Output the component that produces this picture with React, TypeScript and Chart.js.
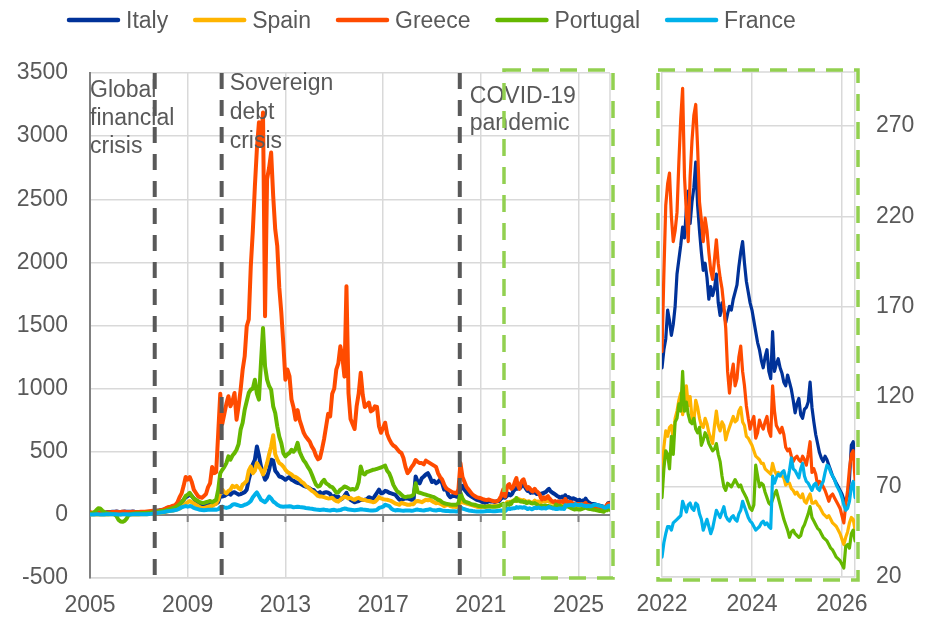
import React, { useEffect, useRef } from 'react';
import { Chart, registerables } from 'chart.js';

Chart.register(...registerables);

// ---------------- data ----------------
const countries = ['Italy', 'Spain', 'Greece', 'Portugal', 'France'];
const seriesColors = ['#003299', '#FFB400', '#FF4B00', '#65B800', '#00B1EA'];

const leftXTicks = [2005, 2009, 2013, 2017, 2021, 2025];
const leftYTicks = [-500, 0, 500, 1000, 1500, 2000, 2500, 3000, 3500];
const rightXTicks = [2022, 2024, 2026];
const rightYTicks = [20, 70, 120, 170, 220, 270];

const eventYears = [2007.65, 2010.39, 2020.14];
const eventLabels = [
  ['Global', 'financial', 'crisis'],
  ['Sovereign', 'debt', 'crisis'],
  ['COVID-19', 'pandemic'],
];
const zoomStartYear = 2021.95;
const endYear = 2026.29;

// monthly observations Jan 2005 .. Dec 2021
const monthlyDates = Array.from({ length: 204 }, (_, i) => 2005 + i / 12);
// half-monthly observations Jan 2022 .. Apr 2026
const halfMonthDates = Array.from({ length: 104 }, (_, i) => 2022 + i / 24);

const italyMonthly = [
  15, 14, 15, 16, 18, 17, 18, 17, 20, 22, 23, 24,
  25, 26, 24, 23, 25, 26, 25, 24, 25, 26, 24, 23,
  22, 23, 22, 21, 22, 23, 25, 28, 30, 32, 35, 38,
  40, 45, 55, 58, 60, 62, 65, 70, 80, 100, 120, 140,
  150, 160, 150, 130, 110, 100, 90, 80, 75, 78, 82, 85,
  85, 88, 90, 100, 150, 145, 150, 160, 170, 160, 175, 180,
  170, 160, 165, 172, 180, 200, 278, 340, 400, 437, 542, 470,
  383, 330, 278, 300, 357, 437, 430, 350, 330, 304, 300, 290,
  278, 290, 300, 278, 270, 260, 253, 250, 240, 230, 225, 220,
  210, 200, 195, 175, 170, 180, 165, 175, 180, 175, 165, 140,
  150, 140, 145, 120, 130, 150, 175, 140, 120, 110, 100, 105,
  110, 120, 118, 120, 125, 140, 135, 125, 150, 175, 200, 170,
  175, 190, 185, 175, 170, 165, 160, 140, 120, 120, 125, 130,
  130, 125, 120, 125, 304, 260, 250, 290, 304, 320, 330, 300,
  260, 270, 250, 260, 280, 253, 200, 210, 160, 140, 150, 150,
  145, 140, 200, 230, 200, 180, 160, 150, 140, 130, 120, 115,
  110, 100, 95, 100, 110, 106, 105, 102, 108, 110, 130, 140,
];
const spainMonthly = [
  3, 2, 2, 3, 4, 3, 3, 2, 3, 3, 4, 4,
  3, 4, 3, 3, 4, 4, 3, 3, 3, 4, 3, 3,
  3, 4, 4, 5, 5, 6, 8, 10, 12, 12, 14, 16,
  18, 22, 28, 30, 32, 35, 40, 45, 50, 60, 75, 90,
  100, 110, 100, 90, 80, 70, 60, 55, 55, 60, 65, 70,
  70, 80, 90, 120, 175, 200, 180, 170, 190, 200, 230, 220,
  230, 210, 200, 240, 253, 270, 350, 383, 330, 350, 410, 383,
  357, 320, 360, 410, 480, 542, 630, 480, 440, 410, 400, 383,
  357, 340, 330, 320, 304, 300, 290, 278, 260, 250, 230, 220,
  205, 190, 180, 165, 150, 145, 145, 140, 135, 130, 132, 135,
  120, 110, 105, 120, 132, 145, 140, 130, 135, 125, 120, 130,
  135, 125, 120, 118, 112, 110, 106, 100, 104, 120, 140, 130,
  125, 122, 120, 115, 110, 100, 90, 85, 80, 95, 90, 85,
  80, 80, 85, 85, 106, 110, 106, 100, 110, 120, 115, 120,
  110, 100, 92, 95, 88, 80, 70, 75, 80, 70, 65, 66,
  62, 65, 110, 100, 95, 90, 85, 80, 75, 70, 65, 62,
  62, 66, 64, 66, 70, 66, 68, 70, 72, 74, 78, 78,
];
const greeceMonthly = [
  20, 18, 17, 18, 19, 20, 19, 18, 19, 20, 21, 22,
  23, 24, 22, 23, 25, 24, 23, 22, 23, 24, 23, 22,
  23, 24, 25, 24, 26, 28, 30, 32, 34, 33, 35, 38,
  42, 50, 58, 62, 68, 72, 80, 100, 140, 170, 230, 300,
  280, 300, 260, 200, 175, 150, 140, 135, 150, 165, 220, 250,
  380, 330, 340, 650, 960, 720, 800, 880, 940, 860, 900, 966,
  754, 860, 992, 1150, 1256, 1494, 1548, 1970, 2250, 2600, 2900, 3109,
  2923, 3188, 1574, 2659, 2750, 2870, 2526, 2262, 2130, 1800, 1601, 1350,
  1071, 1151, 1100, 913, 850, 754, 830, 750, 701, 650, 620, 600,
  580, 540, 515, 470, 440, 450, 520, 600, 700, 800, 780, 960,
  1000, 1150, 1200, 1335, 1250, 1095, 1810, 965, 760, 720, 680, 860,
  960, 1125, 950, 855, 870, 890, 820, 830, 860, 855, 700, 650,
  690, 730, 640, 600, 570, 550, 540, 520, 500, 490, 450, 380,
  330, 350, 380, 400, 435, 420, 410, 410, 400, 430, 420, 410,
  400, 390, 380, 330, 300, 280, 240, 210, 200, 190, 180, 175,
  170, 200, 410, 300, 260, 220, 200, 180, 160, 150, 140, 135,
  132, 125, 120, 118, 122, 115, 110, 106, 108, 120, 150, 200,
];
const portugalMonthly = [
  10, 12, 20, 35, 52, 50, 35, 22, 15, 12, 10, 8,
  5, -10, -40, -52, -55, -48, -30, 0, 8, 10, 12, 12,
  12, 13, 14, 15, 16, 17, 18, 20, 22, 25, 28, 30,
  32, 35, 40, 45, 50, 55, 60, 70, 85, 100, 120, 150,
  160, 175, 150, 130, 120, 110, 100, 95, 95, 100, 105, 110,
  100, 110, 120, 200, 330, 357, 380, 410, 463, 437, 470, 489,
  516, 560, 675, 730, 833, 900, 966, 992, 1000, 1071, 960, 913,
  1204, 1480, 1177, 1071, 1020, 992, 860, 807, 701, 620, 569, 489,
  463, 480, 490, 516, 500, 520, 570, 500, 463, 430, 410, 380,
  357, 320, 278, 240, 225, 230, 260, 278, 250, 240, 225, 220,
  200, 175, 180, 200, 210, 225, 220, 210, 200, 205, 200, 210,
  260, 383, 330, 320, 340, 344, 350, 357, 360, 365, 370, 375,
  383, 390, 350, 330, 290, 240, 210, 185, 175, 160, 145, 140,
  145, 145, 150, 160, 250, 180, 175, 170, 165, 160, 155, 150,
  145, 140, 130, 120, 115, 100, 92, 88, 85, 82, 80, 80,
  80, 90, 175, 130, 106, 100, 95, 88, 82, 80, 75, 70,
  68, 66, 65, 66, 68, 66, 65, 64, 66, 70, 80, 88,
];
const franceMonthly = [
  3, 3, 3, 4, 4, 3, 3, 3, 4, 4, 4, 4,
  4, 4, 3, 3, 4, 4, 4, 3, 3, 4, 4, 4,
  4, 4, 5, 5, 5, 6, 8, 10, 12, 14, 16, 18,
  20, 25, 28, 30, 32, 35, 38, 42, 50, 60, 65, 70,
  65, 70, 66, 55, 50, 45, 40, 38, 36, 38, 40, 40,
  40, 42, 40, 45, 60, 66, 60, 55, 60, 66, 80, 85,
  80, 75, 70, 72, 80, 85, 95, 110, 140, 160, 178, 150,
  120, 110, 100, 119, 145, 130, 106, 95, 80, 72, 66, 64,
  66, 66, 68, 66, 60, 62, 65, 62, 60, 58, 55, 53,
  50, 48, 45, 42, 40, 38, 40, 42, 38, 36, 35, 38,
  40, 35, 36, 38, 45, 50, 48, 42, 40, 38, 36, 38,
  40, 45, 42, 40, 38, 36, 35, 34, 36, 40, 55, 60,
  65, 80, 75, 70, 50, 40, 35, 38, 36, 34, 33, 35,
  35, 34, 33, 35, 40, 42, 38, 36, 35, 38, 40, 45,
  40, 36, 35, 38, 40, 35, 33, 30, 30, 29, 28, 28,
  27, 28, 60, 50, 45, 40, 35, 33, 30, 28, 27, 26,
  26, 27, 28, 30, 32, 30, 29, 28, 30, 32, 34, 33,
];

const italyRecent = [
  136, 146, 152, 168, 162, 154, 160, 170, 188, 196, 204, 214,
  208, 224, 234, 216, 228, 236, 250, 226, 212, 200, 190, 194,
  186, 174, 181, 176, 180, 188, 172, 165, 172, 168, 161, 166,
  170, 168, 174, 178, 182, 192, 200, 206, 194, 184, 178, 172,
  168, 162, 156, 150, 146, 140, 136, 142, 146, 134, 130, 156,
  134, 138, 141, 136, 133, 128, 126, 132, 128, 124, 118, 111,
  116, 119, 110, 108, 113, 114, 117, 128, 114, 106, 99, 94,
  89, 86, 84, 87, 85, 82, 79, 76, 74, 72, 70, 68,
  66, 63, 62, 65, 74, 93, 95, 86,
];
const spainRecent = [
  72, 92, 101, 98, 103, 104, 96, 108, 112, 118, 122, 110,
  116, 126, 115, 120, 108, 106, 118, 114, 108, 104, 103, 108,
  105, 100, 97, 94, 104, 112, 104, 101, 106, 104, 96, 100,
  103, 106, 109, 106, 107, 112, 114, 106, 104, 98, 97, 95,
  93, 90, 87, 86, 85, 83, 83, 80, 79, 78, 77, 83,
  79, 77, 78, 77, 76, 75, 71, 72, 72, 69, 68, 66,
  67, 65, 64, 66, 62, 61, 64, 66, 61, 61, 62, 60,
  59, 57, 55, 54, 53, 54, 52, 50, 49, 48, 46, 44,
  41, 38, 42, 45, 50, 53, 52, 46,
];
const greeceRecent = [
  145, 188, 226, 238, 244, 220, 206, 212, 222, 250, 274, 291,
  242, 222, 206, 242, 262, 276, 282, 258, 228, 218, 206, 219,
  212, 200, 190, 185, 196, 207, 194, 186, 180, 170, 158, 134,
  122, 132, 138, 126, 130, 142, 148, 134, 126, 115, 108, 102,
  106, 109, 97, 100, 107, 104, 102, 106, 109, 101, 98, 126,
  112, 104, 102, 100, 103, 99, 92, 90, 91, 87, 84, 86,
  87, 85, 84, 87, 85, 82, 88, 95, 78, 80, 77, 71,
  73, 72, 70, 68, 65, 62, 65, 66, 64, 62, 60, 58,
  54, 50, 60, 68, 80, 88, 90, 74,
];
const portugalRecent = [
  64, 80, 90, 88, 80, 98, 88, 106, 108, 116, 112, 134,
  112, 117, 110, 106, 105, 108, 102, 100, 103, 93, 96, 100,
  98, 94, 92, 90, 91, 94, 88, 84, 76, 70, 68, 72,
  71, 70, 72, 74, 72, 70, 71, 68, 66, 64, 61, 58,
  57, 60, 82, 76, 70, 72, 71, 67, 64, 61, 60, 63,
  66, 68, 64, 60, 56, 52, 49, 46, 42, 45, 46, 44,
  43, 42, 43, 47, 49, 52, 55, 59, 53, 51, 49, 47,
  46, 44, 42, 41, 40, 38, 36, 35, 33, 31, 30, 29,
  27, 25, 37, 38, 36, 44, 46, 40,
];
const franceRecent = [
  31, 39, 44, 48, 48, 46, 50, 51, 52, 53, 54, 62,
  59, 56, 60, 61, 58, 57, 61, 60, 55, 52, 46, 49,
  52, 48, 44, 47, 52, 57, 55, 53, 56, 59, 54, 52,
  51, 53, 54, 52, 51, 55, 57, 62, 59, 56, 53, 51,
  50, 48, 46, 47, 48, 50, 51, 49, 50, 48, 47, 76,
  72, 75, 77, 76, 78, 79, 75, 73, 79, 86, 80, 79,
  77, 75, 80, 83, 76, 73, 72, 70, 68, 71, 72, 69,
  68, 71, 73, 78, 82, 81, 78, 76, 74, 71, 69, 67,
  64, 60, 57, 58, 62, 70, 73, 64,
];

const monthlySeries = [italyMonthly, spainMonthly, greeceMonthly, portugalMonthly, franceMonthly];
const recentSeries = [italyRecent, spainRecent, greeceRecent, portugalRecent, franceRecent];

// ---------------- styling ----------------
const FONT = '"Liberation Sans", Arial, sans-serif';
const TEXT = '#595959';
const GRID = '#d9d9d9';
const AXIS = '#808080';
const DASH_GREEN = '#92D050';

function points(dates: number[], values: number[]) {
  return values.map((v, i) => ({ x: dates[i], y: v }));
}

function buildDatasets(withHistory: boolean, width: number) {
  return countries.map((name, i) => ({
    label: name,
    data: withHistory
      ? [...points(monthlyDates, monthlySeries[i]), ...points(halfMonthDates, recentSeries[i])]
      : points(halfMonthDates, recentSeries[i]),
    borderColor: seriesColors[i],
    backgroundColor: seriesColors[i],
    borderWidth: width,
    pointRadius: 0,
    tension: 0,
    fill: false,
    borderJoinStyle: 'round' as const,
    borderCapStyle: 'round' as const,
    order: countries.length - 1 - i,
  }));
}

const tickFont = { family: FONT, size: 23 };

function strokeDashedRect(ctx: CanvasRenderingContext2D, x1: number, y1: number, x2: number, y2: number) {
  ctx.save();
  ctx.strokeStyle = DASH_GREEN;
  ctx.lineWidth = 3.5;
  ctx.setLineDash([17, 11]);
  ctx.strokeRect(x1, y1, x2 - x1, y2 - y1);
  ctx.restore();
}

const leftDecor = {
  id: 'leftDecor',
  beforeDatasetsDraw(chart: any) {
    const { ctx, chartArea: a, scales } = chart;
    const x = scales.x;
    const y = scales.y;
    ctx.save();
    ctx.strokeStyle = GRID;
    ctx.lineWidth = 1.5;
    ctx.beginPath();
    ctx.moveTo(a.right, a.top);
    ctx.lineTo(a.right, a.bottom);
    ctx.stroke();
    const y0 = y.getPixelForValue(0);
    ctx.strokeStyle = AXIS;
    ctx.lineWidth = 2;
    ctx.beginPath();
    ctx.moveTo(a.left, y0);
    ctx.lineTo(a.right, y0);
    leftXTicks.slice(1).forEach((v) => {
      const px = x.getPixelForValue(v);
      ctx.moveTo(px, y0);
      ctx.lineTo(px, y0 + 7);
    });
    ctx.stroke();
    ctx.restore();
  },
  afterDatasetsDraw(chart: any) {
    const { ctx, chartArea: a, scales } = chart;
    const x = scales.x;
    ctx.save();
    // annotation texts
    ctx.font = `23px ${FONT}`;
    ctx.fillStyle = TEXT;
    ctx.textAlign = 'left';
    ctx.textBaseline = 'alphabetic';
    const textX = [a.left, x.getPixelForValue(eventYears[1]) + 8, x.getPixelForValue(eventYears[2]) + 10];
    const firstBase = [a.top + 24, a.top + 17, a.top + 30];
    const lineGap = [28, 29, 27];
    eventLabels.forEach((lines, k) => {
      lines.forEach((t, j) => ctx.fillText(t, textX[k], firstBase[k] + j * lineGap[k]));
    });
    // event dashed lines
    ctx.strokeStyle = TEXT;
    ctx.lineWidth = 4;
    ctx.setLineDash([16, 11]);
    eventYears.forEach((yr) => {
      const px = x.getPixelForValue(yr);
      ctx.beginPath();
      ctx.moveTo(px, a.top);
      ctx.lineTo(px, a.bottom + 2);
      ctx.stroke();
    });
    ctx.restore();
    strokeDashedRect(ctx, x.getPixelForValue(zoomStartYear), a.top - 3, a.right + 3, a.bottom);

    // legend
    ctx.save();
    ctx.font = `23px ${FONT}`;
    ctx.textBaseline = 'alphabetic';
    ctx.textAlign = 'left';
    let lx = 67;
    const ly = 20;
    countries.forEach((name, i) => {
      ctx.strokeStyle = seriesColors[i];
      ctx.lineWidth = 4.5;
      ctx.lineCap = 'round';
      ctx.beginPath();
      ctx.moveTo(lx + 2, ly);
      ctx.lineTo(lx + 51, ly);
      ctx.stroke();
      const w = ctx.measureText(name).width;
      ctx.fillStyle = TEXT;
      ctx.fillText(name, lx + 59, ly + 8);
      lx = lx + 59 + w + 25;
    });
    ctx.restore();
  },
};

const rightDecor = {
  id: 'rightDecor',
  beforeDatasetsDraw(chart: any) {
    const { ctx, chartArea: a } = chart;
    ctx.save();
    ctx.strokeStyle = GRID;
    ctx.lineWidth = 1.5;
    ctx.beginPath();
    ctx.moveTo(a.left, a.top);
    ctx.lineTo(a.right, a.top);
    ctx.stroke();
    ctx.restore();
  },
  afterDatasetsDraw(chart: any) {
    const { ctx, chartArea: a } = chart;
    strokeDashedRect(ctx, a.left - 4, a.top - 2, a.right + 3, a.bottom + 3);
  },
};

export default function App() {
  const leftRef = useRef<HTMLCanvasElement>(null);
  const rightRef = useRef<HTMLCanvasElement>(null);

  useEffect(() => {
    const left = new Chart(leftRef.current as HTMLCanvasElement, {
      type: 'line',
      data: { datasets: buildDatasets(true, 4) as any },
      options: {
        animation: false,
        responsive: false,
        maintainAspectRatio: false,
        layout: { padding: { top: 73, right: 322, left: 0, bottom: 0 } },
        plugins: { legend: { display: false }, tooltip: { enabled: false } },
        scales: {
          x: {
            type: 'linear',
            min: 2005,
            max: endYear,
            afterBuildTicks: (s: any) => { s.ticks = leftXTicks.map((v) => ({ value: v })); },
            afterFit: (s: any) => { s.height = 43; },
            ticks: { color: TEXT, font: tickFont, padding: 14, maxRotation: 0, autoSkip: false, callback: (v: any) => String(v) },
            grid: {
              color: (c: any) => (c.tick && c.tick.value === 2005 ? 'rgba(0,0,0,0)' : GRID),
              lineWidth: 1.5,
              drawTicks: false,
            },
            border: { color: GRID, width: 1.5 },
          },
          y: {
            min: -500,
            max: 3500,
            afterBuildTicks: (s: any) => { s.ticks = leftYTicks.map((v) => ({ value: v })); },
            afterFit: (s: any) => { s.width = 90; },
            ticks: { color: TEXT, font: tickFont, padding: 22, callback: (v: any) => String(v) },
            grid: { color: GRID, lineWidth: 1.5, drawTicks: false },
            border: { color: AXIS, width: 2 },
          },
        },
      } as any,
      plugins: [leftDecor],
    });

    const right = new Chart(rightRef.current as HTMLCanvasElement, {
      type: 'line',
      data: { datasets: buildDatasets(false, 3.2) as any },
      options: {
        animation: false,
        responsive: false,
        maintainAspectRatio: false,
        layout: { padding: { top: 72, right: 0, left: 662, bottom: 0 } },
        plugins: { legend: { display: false }, tooltip: { enabled: false } },
        scales: {
          x: {
            type: 'linear',
            min: 2022,
            max: endYear,
            afterBuildTicks: (s: any) => { s.ticks = rightXTicks.map((v) => ({ value: v })); },
            afterFit: (s: any) => { s.height = 44; },
            ticks: { color: TEXT, font: tickFont, padding: 14, maxRotation: 0, autoSkip: false, callback: (v: any) => String(v) },
            grid: { color: GRID, lineWidth: 1.5, drawTicks: false },
            border: { color: GRID, width: 1.5 },
          },
          y: {
            position: 'right',
            min: 20,
            max: 300,
            afterBuildTicks: (s: any) => { s.ticks = rightYTicks.map((v) => ({ value: v })); },
            afterFit: (s: any) => { s.width = 77; },
            ticks: { color: TEXT, font: tickFont, padding: 21, callback: (v: any) => String(v) },
            grid: { color: GRID, lineWidth: 1.5, drawTicks: false },
            border: { color: GRID, width: 1.5 },
          },
        },
      } as any,
      plugins: [rightDecor],
    });

    return () => {
      left.destroy();
      right.destroy();
    };
  }, []);

  return (
    <div style={{ position: 'absolute', left: 0, top: 0, width: 932, height: 621, background: '#ffffff' }}>
      <canvas ref={leftRef} width={932} height={621} style={{ position: 'absolute', left: 0, top: 0 }} />
      <canvas ref={rightRef} width={932} height={621} style={{ position: 'absolute', left: 0, top: 0 }} />
    </div>
  );
}
